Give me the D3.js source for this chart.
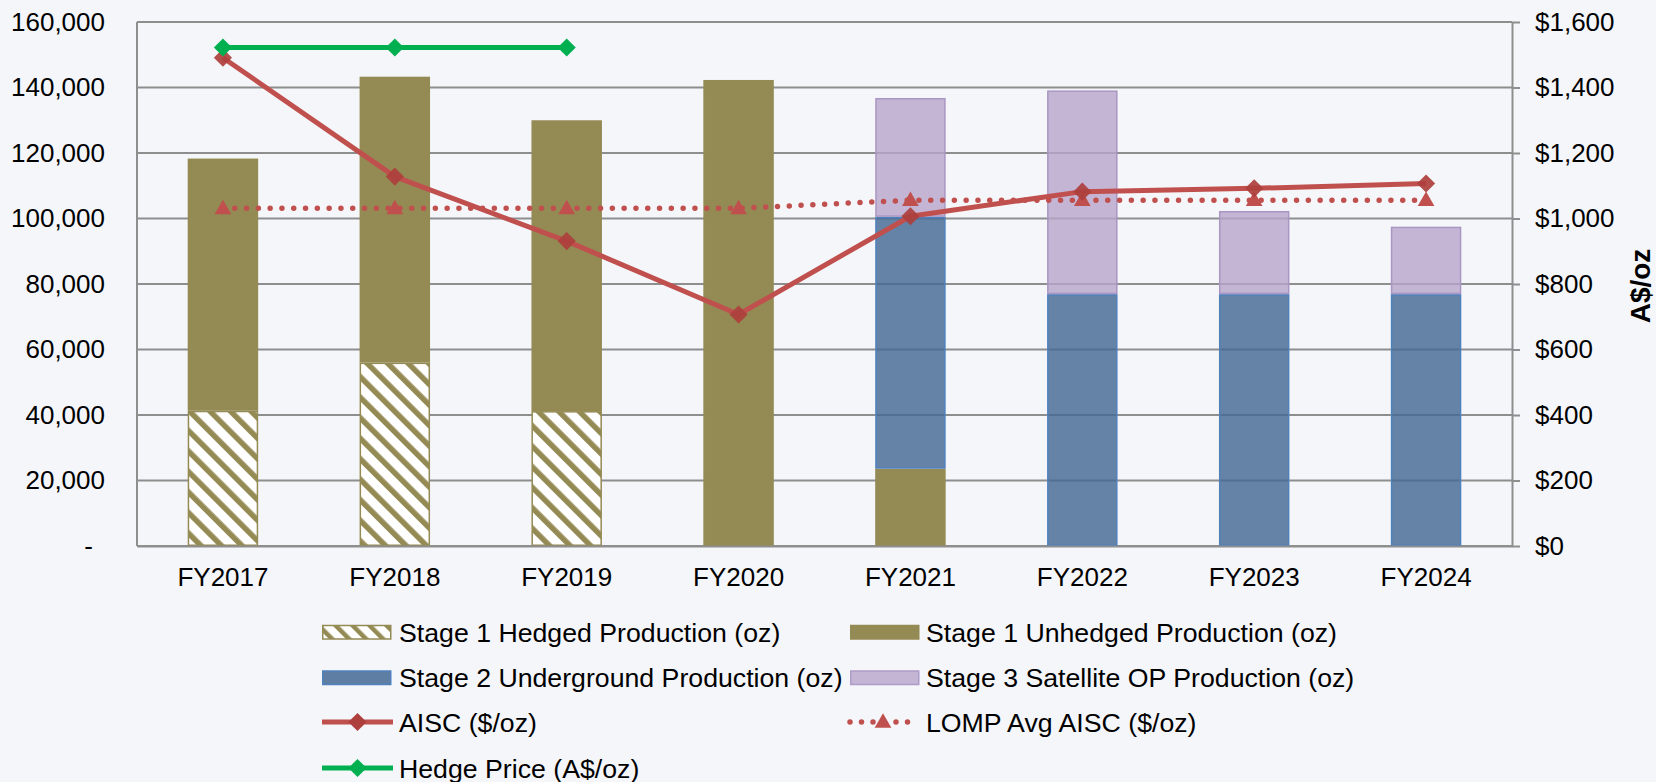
<!DOCTYPE html>
<html>
<head>
<meta charset="utf-8">
<script src="https://cdn.jsdelivr.net/npm/d3@7"></script>
<style>
  body { margin: 0; background: #f5f6fa; }
  svg { display: block; font-family: "Liberation Sans", Arial, sans-serif; }
</style>
</head>
<body>
<svg id="chart" width="1656" height="782"></svg>
<script>
// DATA
var years = ["FY2017", "FY2018", "FY2019", "FY2020", "FY2021", "FY2022", "FY2023", "FY2024"];
var hedged      = [41300, 56000, 41200, 0, 0, 0, 0, 0];
var unhedged    = [77000, 87300, 88800, 142300, 23600, 0, 0, 0];
var underground = [0, 0, 0, 0, 76900, 76900, 76900, 76900];
var satellite   = [0, 0, 0, 0, 36300, 62200, 25400, 20600];
var aisc        = [1491, 1128, 931, 707, 1007, 1082, 1092, 1107];
var lompAvg     = [1031, 1031, 1031, 1031, 1056, 1056, 1056, 1056];
var hedgePrice  = [1522, 1522, 1522, null, null, null, null, null];
var leftTicks   = [0, 20000, 40000, 60000, 80000, 100000, 120000, 140000, 160000];
var rightTicks  = [0, 200, 400, 600, 800, 1000, 1200, 1400, 1600];

var seriesNames = ["Stage 1 Hedged Production (oz)", "Stage 1 Unhedged Production (oz)",
                   "Stage 2 Underground Production (oz)", "Stage 3 Satellite OP Production (oz)",
                   "AISC ($/oz)", "LOMP Avg AISC ($/oz)", "Hedge Price (A$/oz)"];

// SETUP
var svg = d3.select("#chart"),
    pLeft = 137, pRight = 1512, pTop = 22, pBottom = 546;

var gridColor = "#8e8e8e",
    olive = "#948a54",
    red = "#c0504d",
    redDark = "#ad3f3c",
    green = "#00b050";

svg.append("rect").attr("width", 1656).attr("height", 782).attr("fill", "#f5f6fa");

var defs = svg.append("defs");
var pat = defs.append("pattern")
    .attr("id", "hatch")
    .attr("patternUnits", "userSpaceOnUse")
    .attr("width", 14.5).attr("height", 14.5)
    .attr("patternTransform", "rotate(-45)");
pat.append("rect").attr("width", 14.5).attr("height", 14.5).attr("fill", "#ffffff");
pat.append("rect").attr("width", 5.5).attr("height", 14.5).attr("fill", olive);

var pat2 = defs.append("pattern")
    .attr("id", "hatchSmall")
    .attr("patternUnits", "userSpaceOnUse")
    .attr("width", 12).attr("height", 12)
    .attr("patternTransform", "rotate(-45)");
pat2.append("rect").attr("width", 12).attr("height", 12).attr("fill", "#ffffff");
pat2.append("rect").attr("width", 4.5).attr("height", 12).attr("fill", olive);

var x = d3.scaleBand().domain(years).range([pLeft, pRight]).paddingInner(0.59).paddingOuter(0.295);
var y = d3.scaleLinear().domain([0, 160000]).range([pBottom, pTop]);
var y2 = d3.scaleLinear().domain([0, 1600]).range([pBottom, pTop]);

// gridlines
svg.append("g").selectAll("line")
    .data(leftTicks)
    .enter().append("line")
    .attr("x1", pLeft).attr("x2", pRight)
    .attr("y1", function (d) { return y(d); })
    .attr("y2", function (d) { return y(d); })
    .attr("stroke", gridColor).attr("stroke-width", 2);

// stacked bars
var layers = [
    { key: "hedged", vals: hedged, fill: "url(#hatch)", stroke: olive, op: 1 },
    { key: "unhedged", vals: unhedged, fill: olive, stroke: olive, op: 1 },
    { key: "underground", vals: underground, fill: "#456994", stroke: "#4f81bd", op: 0.82 },
    { key: "satellite", vals: satellite, fill: "#b8a5ca", stroke: "#a996c2", op: 0.8 }
];

var base = years.map(function () { return 0; });
layers.forEach(function (L) {
    var rows = years.map(function (yr, i) {
        var r = { year: yr, y0: base[i], y1: base[i] + L.vals[i] };
        base[i] = r.y1;
        return r;
    }).filter(function (r) { return r.y1 > r.y0; });

    svg.append("g").attr("class", "bars " + L.key)
        .selectAll("rect")
        .data(rows)
        .enter().append("rect")
        .attr("x", function (d) { return x(d.year) + 0.75; })
        .attr("y", function (d) { return y(d.y1) + 0.75; })
        .attr("width", x.bandwidth() - 1.5)
        .attr("height", function (d) { return y(d.y0) - y(d.y1) - 1.5; })
        .attr("fill", L.fill)
        .attr("fill-opacity", L.op)
        .attr("stroke", L.stroke)
        .attr("stroke-width", 1.5);
});

// axes
var cx = function (d, i) { return x(years[i]) + x.bandwidth() / 2; };

var gl = svg.append("g").attr("transform", "translate(" + pLeft + ",0)")
    .call(d3.axisLeft(y).tickValues(leftTicks).tickSize(0).tickPadding(32)
        .tickFormat(function (d) { return d === 0 ? "-" : d3.format(",")(d); }));
gl.select(".domain").remove();
gl.selectAll("text").attr("font-size", 26).attr("fill", "#000")
    .attr("font-family", "Liberation Sans, Arial, sans-serif")
    .attr("dx", function (d) { return d === 0 ? -12 : 0; });
svg.append("line").attr("x1", pLeft).attr("x2", pLeft).attr("y1", pTop).attr("y2", pBottom)
    .attr("stroke", gridColor).attr("stroke-width", 2);

var gr = svg.append("g").attr("transform", "translate(" + pRight + ",0)")
    .call(d3.axisRight(y2).tickValues(rightTicks).tickSize(8).tickSizeOuter(0).tickPadding(15)
        .tickFormat(function (d) { return "$" + d3.format(",")(d); }));
gr.select(".domain").attr("stroke", gridColor).attr("stroke-width", 2);
gr.selectAll(".tick line").attr("stroke", gridColor).attr("stroke-width", 2);
gr.selectAll("text").attr("font-size", 26).attr("fill", "#000")
    .attr("font-family", "Liberation Sans, Arial, sans-serif");

var gb = svg.append("g").attr("transform", "translate(0," + pBottom + ")")
    .call(d3.axisBottom(x).tickSize(0).tickPadding(22));
gb.select(".domain").attr("stroke", gridColor).attr("stroke-width", 2);
gb.selectAll("text").attr("font-size", 26).attr("fill", "#000")
    .attr("font-family", "Liberation Sans, Arial, sans-serif");

svg.append("text")
    .attr("transform", "translate(1650,286) rotate(-90)")
    .attr("text-anchor", "middle")
    .attr("font-size", 28).attr("font-weight", "bold")
    .text("A$/oz");

// lines
var diamond = d3.symbol().type(d3.symbolDiamond2).size(210);
var triangle = d3.symbol().type(d3.symbolTriangle2).size(200);

function lineFor(vals) {
    return d3.line()
        .defined(function (d) { return d != null; })
        .x(cx)
        .y(function (d) { return y2(d); })(vals);
}

// LOMP avg (dotted with triangles)
svg.append("path").attr("d", lineFor(lompAvg))
    .attr("fill", "none").attr("stroke", red).attr("stroke-width", 5.5)
    .attr("stroke-linecap", "round").attr("stroke-dasharray", "0 11.8");
svg.append("g").selectAll("path")
    .data(lompAvg).enter().append("path")
    .attr("d", triangle)
    .attr("transform", function (d, i) { return "translate(" + cx(d, i) + "," + (y2(d) + 1) + ")"; })
    .attr("fill", red);

// AISC
svg.append("path").attr("d", lineFor(aisc))
    .attr("fill", "none").attr("stroke", red).attr("stroke-width", 5)
    .attr("stroke-linejoin", "round");
svg.append("g").selectAll("path")
    .data(aisc).enter().append("path")
    .attr("d", diamond)
    .attr("transform", function (d, i) { return "translate(" + cx(d, i) + "," + y2(d) + ")"; })
    .attr("fill", redDark).attr("fill-opacity", 0.92);

// Hedge price
svg.append("path").attr("d", lineFor(hedgePrice))
    .attr("fill", "none").attr("stroke", green).attr("stroke-width", 5);
svg.append("g").selectAll("path")
    .data(hedgePrice.filter(function (d) { return d != null; })).enter().append("path")
    .attr("d", diamond)
    .attr("transform", function (d, i) { return "translate(" + cx(d, i) + "," + y2(d) + ")"; })
    .attr("fill", green);

// LEGEND
var legendItems = [
    { col: 0, row: 0, kind: "box", fill: "url(#hatchSmall)", stroke: olive },
    { col: 1, row: 0, kind: "box", fill: olive, stroke: olive },
    { col: 0, row: 1, kind: "box", fill: "#5f7ea3", stroke: "#4f81bd" },
    { col: 1, row: 1, kind: "box", fill: "#c4b5d4", stroke: "#ae9cc8" },
    { col: 0, row: 2, kind: "line", color: red, mark: redDark, sym: diamond },
    { col: 1, row: 2, kind: "dots", color: red, mark: red, sym: triangle },
    { col: 0, row: 3, kind: "line", color: green, mark: green, sym: diamond }
];
var colX = [322, 850], rowY = [632, 677.5, 722, 768];

legendItems.forEach(function (it, i) {
    var g = svg.append("g").attr("transform", "translate(" + colX[it.col] + "," + rowY[it.row] + ")");
    if (it.kind === "box") {
        g.append("rect").attr("x", 0.75).attr("y", -6.5).attr("width", 68).attr("height", 13.5)
            .attr("fill", it.fill).attr("stroke", it.stroke).attr("stroke-width", 1.5);
    } else if (it.kind === "line") {
        g.append("line").attr("x1", 0).attr("x2", 71).attr("y1", 0).attr("y2", 0)
            .attr("stroke", it.color).attr("stroke-width", 5);
        g.append("path").attr("d", it.sym).attr("transform", "translate(35.5,0)").attr("fill", it.mark);
    } else {
        g.append("line").attr("x1", 0).attr("x2", 66).attr("y1", 0).attr("y2", 0)
            .attr("stroke", it.color).attr("stroke-width", 5.5)
            .attr("stroke-linecap", "round").attr("stroke-dasharray", "0 11.5");
        g.append("path").attr("d", it.sym).attr("transform", "translate(33,1)").attr("fill", it.mark);
    }
    g.append("text").attr("x", it.col === 0 ? 77 : 76).attr("y", 9.5)
        .attr("font-size", 26.7).attr("fill", "#000")
        .text(seriesNames[i]);
});
</script>
</body>
</html>
